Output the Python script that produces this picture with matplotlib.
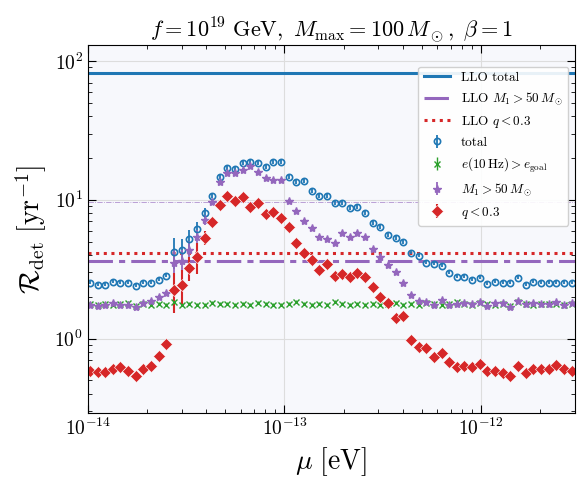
import numpy as np
import matplotlib.pyplot as plt

plt.rcParams["mathtext.fontset"] = "cm"
plt.rcParams["font.family"] = "serif"
plt.rcParams["font.serif"] = ["cmr10"]
plt.rcParams["axes.formatter.use_mathtext"] = True

# mass grid (eV), 64 log-spaced points
mu = np.logspace(-13.99, -11.54, 64)

# values, in pixel rows -> converted to log10 below
total_px = [283, 285, 285, 282, 283, 283, 286, 283, 283, 280, 276, 252, 250, 239, 229, 213,
            196, 177, 168, 169, 163, 162, 163, 167, 162, 162, 177, 182, 181, 191, 196, 196,
            203, 203, 208, 207, 213, 223, 227, 235, 238, 242, 253, 256, 263, 264, 266, 273,
            277, 277, 280, 278, 284, 282, 283, 283, 278, 285, 282, 283, 283, 283, 283, 283]
m1_px = [305, 306, 305, 303, 305, 305, 307, 303, 301, 297, 293, 263, 261, 250, 237, 220,
         202, 182, 173, 173, 170, 166, 172, 178, 180, 180, 201, 211, 221, 228, 237, 239,
         243, 233, 237, 233, 237, 249, 257, 265, 272, 283, 295, 301, 302, 305, 300, 305,
         304, 303, 304, 302, 306, 303, 303, 307, 301, 304, 303, 304, 304, 302, 305, 303]
ecc_px = [304, 305, 304, 305, 304, 303, 306, 304, 305, 304, 305, 302, 305, 304, 305, 305,
          303, 304, 304, 305, 304, 305, 303, 304, 305, 305, 304, 302, 304, 305, 304, 305,
          302, 304, 305, 304, 305, 304, 305, 304, 303, 305, 304, 305, 303, 304, 305, 304,
          302, 304, 305, 303, 304, 305, 304, 306, 302, 304, 305, 304, 304, 304, 305, 304]
q_px = [372, 373, 373, 370, 368, 372, 377, 370, 367, 357, 345, 290, 285, 268, 257, 238,
        222, 205, 196, 201, 197, 207, 203, 214, 212, 218, 227, 243, 253, 260, 270, 264,
        276, 274, 277, 273, 277, 287, 297, 303, 318, 316, 340, 348, 349, 358, 354, 363,
        368, 367, 368, 365, 372, 372, 374, 377, 367, 374, 370, 370, 370, 366, 370, 372]

# relative errors (big only around the rising edge)
rel_err = np.full(64, 0.03)
rel_err[11:16] = [0.25, 0.2, 0.15, 0.12, 0.08]
q_rel_err = np.full(64, 0.03)
q_rel_err[11:16] = [0.32, 0.28, 0.2, 0.25, 0.12]

llo_total = 82.0
llo_m1 = 3.64
llo_q = 4.15
m1_upper = 9.7


def px_to_val(px):
    return 10 ** ((339 - np.array(px)) / 139.0)


total = px_to_val(total_px)
m1 = px_to_val(m1_px)
ecc = px_to_val(ecc_px)
qlow = px_to_val(q_px)

fig = plt.figure(figsize=(5.86, 4.86), dpi=100)
ax = fig.add_axes([0.150, 0.150, 0.831, 0.757])
ax.set_facecolor("#f7f8fc")

blue, green, purple, red = "#1f77b4", "#2ca02c", "#9467bd", "#d62728"

ax.axhline(llo_total, color=blue, lw=2.2, label="LLO total")
ax.axhline(llo_m1, color=purple, lw=2.2, ls=(0, (8, 2, 2, 2)), label=r"LLO $M_1 > 50\,M_\odot$")
ax.axhline(llo_q, color=red, lw=2.2, ls=(0, (1, 1.5)), label=r"LLO $q < 0.3$")
ax.axhline(m1_upper, color=purple, lw=0.6, ls="-.", alpha=0.7)

ax.errorbar(mu, total, yerr=total * rel_err, fmt="o", ms=4.5, mfc="none", mec=blue,
            mew=1.2, color=blue, elinewidth=1.3, label="total")
ax.errorbar(mu, ecc, yerr=ecc * 0.03, fmt="x", ms=5, color=green, mew=1.0,
            elinewidth=1.0, label=r"$e(10\,\mathrm{Hz}) > e_\mathrm{goal}$")
ax.errorbar(mu, m1, yerr=m1 * rel_err, fmt="*", ms=6, color=purple,
            elinewidth=1.3, label=r"$M_1 > 50\,M_\odot$")
ax.errorbar(mu, qlow, yerr=qlow * q_rel_err, fmt="D", ms=6, color=red, mec="white",
            mew=0.4, elinewidth=1.5, label=r"$q < 0.3$")

ax.set_xscale("log")
ax.set_yscale("log")
ax.set_xlim(1e-14, 3e-12)
ax.set_ylim(0.29, 130)
ax.grid(True, which="major", color="#dddddd", lw=0.8)
ax.tick_params(which="both", direction="in", top=True, right=True, labelsize=14)
ax.tick_params(which="major", length=6)
ax.tick_params(which="minor", length=3)

ax.set_xlabel(r"$\mu\ [\mathrm{eV}]$", fontsize=20)
ax.set_ylabel(r"$\mathcal{R}_\mathrm{det}\ [\mathrm{yr}^{-1}]$", fontsize=20)
ax.set_title(r"$f = 10^{19}\ \mathrm{GeV},\ M_\mathrm{max} = 100\,M_\odot,\ \beta = 1$",
             fontsize=16)

ax.legend(loc="upper right", fontsize=9.5, framealpha=0.9, bbox_to_anchor=(1.0, 0.96))

fig.savefig("out.png", dpi=100)
